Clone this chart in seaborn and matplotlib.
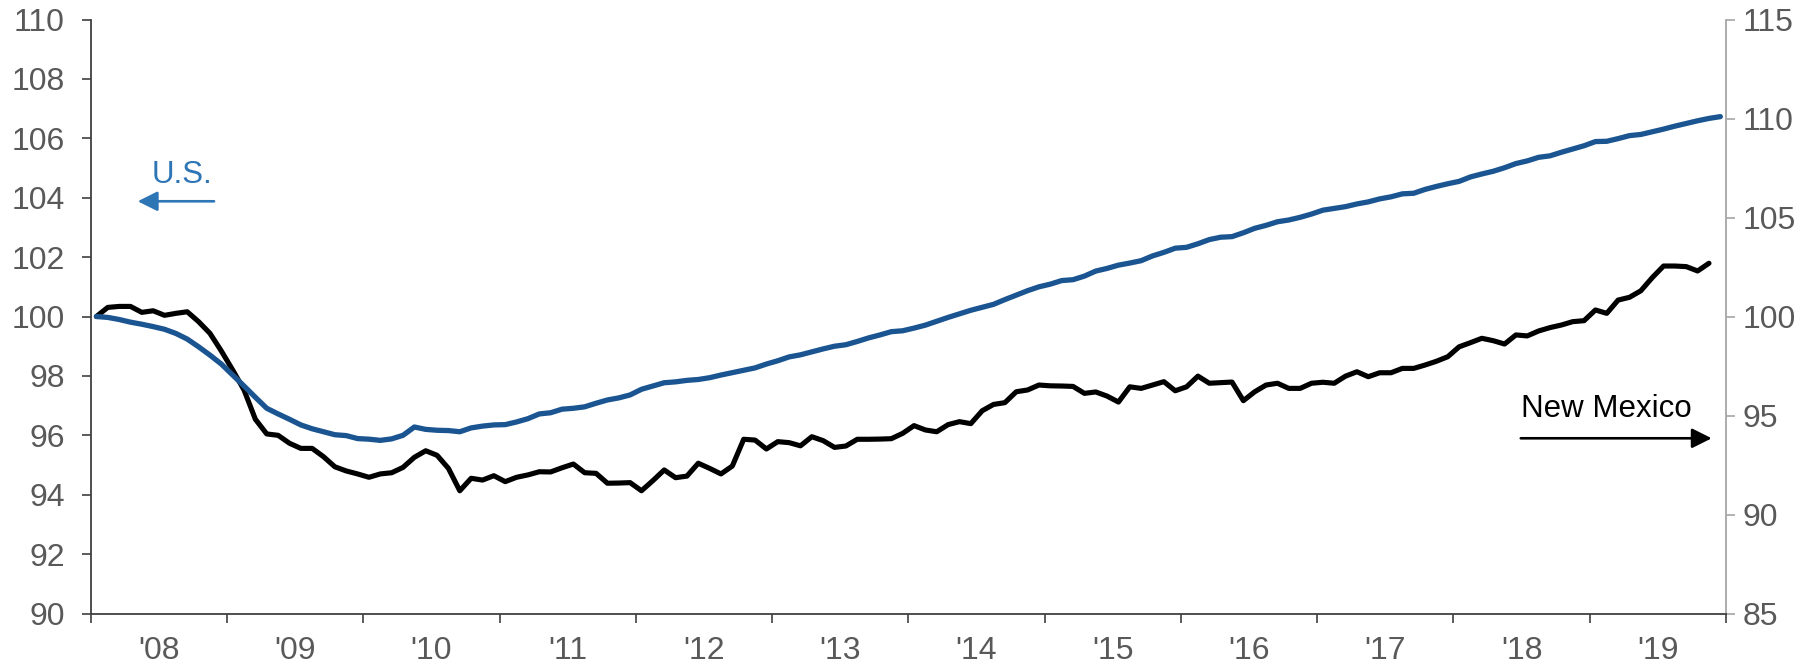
import numpy as np
import pandas as pd
import seaborn as sns
import matplotlib.pyplot as plt

# monthly index values, Jan 2008 = 100
us = [100.0, 99.97, 99.90, 99.81, 99.74, 99.66, 99.57, 99.43, 99.24, 98.98, 98.70, 98.40,
      98.03, 97.66, 97.28, 96.91, 96.72, 96.54, 96.35, 96.22, 96.12, 96.02, 95.99, 95.89,
      95.87, 95.83, 95.88, 96.00, 96.28, 96.20, 96.17, 96.16, 96.12, 96.25, 96.31, 96.35,
      96.36, 96.45, 96.56, 96.72, 96.76, 96.88, 96.91, 96.96, 97.08, 97.19, 97.26, 97.36,
      97.55, 97.66, 97.77, 97.80, 97.85, 97.88, 97.94, 98.03, 98.11, 98.19, 98.27, 98.40,
      98.51, 98.64, 98.71, 98.81, 98.91, 99.00, 99.05, 99.16, 99.28, 99.38, 99.49, 99.52,
      99.61, 99.71, 99.84, 99.97, 100.09, 100.21, 100.31, 100.41, 100.57, 100.72, 100.87, 101.00,
      101.09, 101.21, 101.24, 101.36, 101.53, 101.62, 101.73, 101.80, 101.88, 102.04, 102.16, 102.30,
      102.33, 102.45, 102.59, 102.67, 102.69, 102.82, 102.97, 103.07, 103.19, 103.25, 103.34, 103.45,
      103.58, 103.64, 103.70, 103.79, 103.86, 103.96, 104.03, 104.13, 104.15, 104.28, 104.38, 104.47,
      104.55, 104.70, 104.80, 104.89, 105.01, 105.15, 105.24, 105.36, 105.41, 105.53, 105.64, 105.75,
      105.89, 105.90, 105.99, 106.09, 106.13, 106.22, 106.31, 106.41, 106.50, 106.59, 106.67, 106.73]

new_mexico = [100.0, 100.46, 100.51, 100.51, 100.21, 100.29, 100.06, 100.16, 100.24, 99.74, 99.15, 98.26,
              97.30, 96.29, 94.81, 94.07, 94.00, 93.60, 93.34, 93.34, 92.92, 92.41, 92.20, 92.05,
              91.88, 92.05, 92.11, 92.38, 92.89, 93.22, 92.99, 92.33, 91.20, 91.83, 91.74, 91.96,
              91.66, 91.88, 92.00, 92.16, 92.15, 92.36, 92.55, 92.11, 92.08, 91.58, 91.59, 91.61,
              91.20, 91.71, 92.25, 91.86, 91.94, 92.59, 92.33, 92.05, 92.45, 93.80, 93.76, 93.31,
              93.68, 93.63, 93.47, 93.93, 93.73, 93.39, 93.46, 93.80, 93.80, 93.81, 93.83, 94.10,
              94.49, 94.27, 94.18, 94.54, 94.69, 94.59, 95.24, 95.56, 95.65, 96.20, 96.29, 96.54,
              96.50, 96.49, 96.47, 96.12, 96.19, 95.98, 95.68, 96.45, 96.37, 96.54, 96.71, 96.25,
              96.45, 96.99, 96.63, 96.66, 96.69, 95.75, 96.20, 96.54, 96.63, 96.37, 96.37, 96.63,
              96.68, 96.63, 96.99, 97.21, 96.96, 97.16, 97.16, 97.38, 97.38, 97.55, 97.74, 97.97,
              98.47, 98.68, 98.90, 98.78, 98.61, 99.07, 99.02, 99.27, 99.44, 99.57, 99.74, 99.79,
              100.33, 100.16, 100.83, 100.97, 101.30, 101.96, 102.55, 102.55, 102.52, 102.30, 102.69]

year_labels = ["'08", "'09", "'10", "'11", "'12", "'13", "'14", "'15", "'16", "'17", "'18", "'19"]
left_ticks = [90, 92, 94, 96, 98, 100, 102, 104, 106, 108, 110]
right_ticks = [85, 90, 95, 100, 105, 110, 115]

US_LINE = "#1A5592"
US_TEXT = "#2E75B6"
GREY_TXT = "#595959"
DARK = "#404040"
LIGHT = "#A6A6A6"

sns.set_style("white")
plt.rcParams["font.family"] = ["Liberation Sans", "DejaVu Sans"]

# mid-month positions in decimal years
months = pd.date_range("2008-01-01", periods=len(us), freq="MS")
x = months.year + (months.month - 0.5) / 12
df_us = pd.DataFrame({"x": x, "value": us})
df_nm = pd.DataFrame({"x": x[:len(new_mexico)], "value": new_mexico})

fig = plt.figure(figsize=(18.18, 6.66), dpi=100)
ax = fig.add_axes([0.0499, 0.0788, 0.8995, 0.8919])
ax2 = ax.twinx()

sns.lineplot(data=df_nm, x="x", y="value", ax=ax2, color="black", lw=3.7,
             estimator=None, solid_capstyle="round", solid_joinstyle="round")
sns.lineplot(data=df_us, x="x", y="value", ax=ax, color=US_LINE, lw=3.8,
             estimator=None, solid_capstyle="round", solid_joinstyle="round")
ax.set_zorder(ax2.get_zorder() + 1)
ax.patch.set_visible(False)

ax.set_xlim(2008, 2020)
ax.set_ylim(90, 110)
ax2.set_ylim(85, 115)
ax.set_yticks(left_ticks)
ax2.set_yticks(right_ticks)
ax.set_xticks(range(2008, 2021))
ax.set_xticklabels([])
ax.set_xticks(np.arange(2008.5, 2020, 1), minor=True)
ax.set_xticklabels(year_labels, minor=True)
ax.set_xlabel("")
ax.set_ylabel("")
ax2.set_ylabel("")

ax.tick_params(axis="x", which="major", direction="out", length=6.7, width=1.2, color=DARK, bottom=True)
ax.tick_params(axis="x", which="minor", length=0, pad=16, labelsize=23, labelcolor=GREY_TXT, bottom=True)
ax.tick_params(axis="y", direction="out", length=6.7, width=1.2, color=DARK, pad=12,
               labelsize=23, labelcolor=GREY_TXT, left=True)
ax2.tick_params(axis="y", direction="out", length=6.7, width=1.2, color=LIGHT, pad=5,
                labelsize=23, labelcolor=GREY_TXT, right=True)

for a in (ax, ax2):
    a.spines["top"].set_visible(False)
ax.spines["right"].set_visible(False)
ax.spines["left"].set_color(DARK)
ax.spines["bottom"].set_color(DARK)
ax.spines["left"].set_linewidth(1.3)
ax.spines["bottom"].set_linewidth(1.3)
ax2.spines["left"].set_visible(False)
ax2.spines["bottom"].set_visible(False)
ax2.spines["right"].set_color(LIGHT)
ax2.spines["right"].set_linewidth(1.3)

# series labels with arrows pointing at their axis
ax.text(2008.668, 104.51, "U.S.", ha="center", va="baseline", color=US_TEXT, fontsize=22.5)
ax.annotate("", xy=(2008.345, 103.88), xytext=(2008.905, 103.88),
            arrowprops=dict(arrowstyle="-|>", color=US_TEXT, lw=1.9, mutation_scale=30,
                            shrinkA=0, shrinkB=0))
ax.text(2019.125, 96.63, "New Mexico", ha="center", va="baseline", color="black", fontsize=22.5)
ax.annotate("", xy=(2019.895, 95.90), xytext=(2018.494, 95.90),
            arrowprops=dict(arrowstyle="-|>", color="black", lw=1.9, mutation_scale=30,
                            shrinkA=0, shrinkB=0))

fig.savefig("out.png", dpi=100)
